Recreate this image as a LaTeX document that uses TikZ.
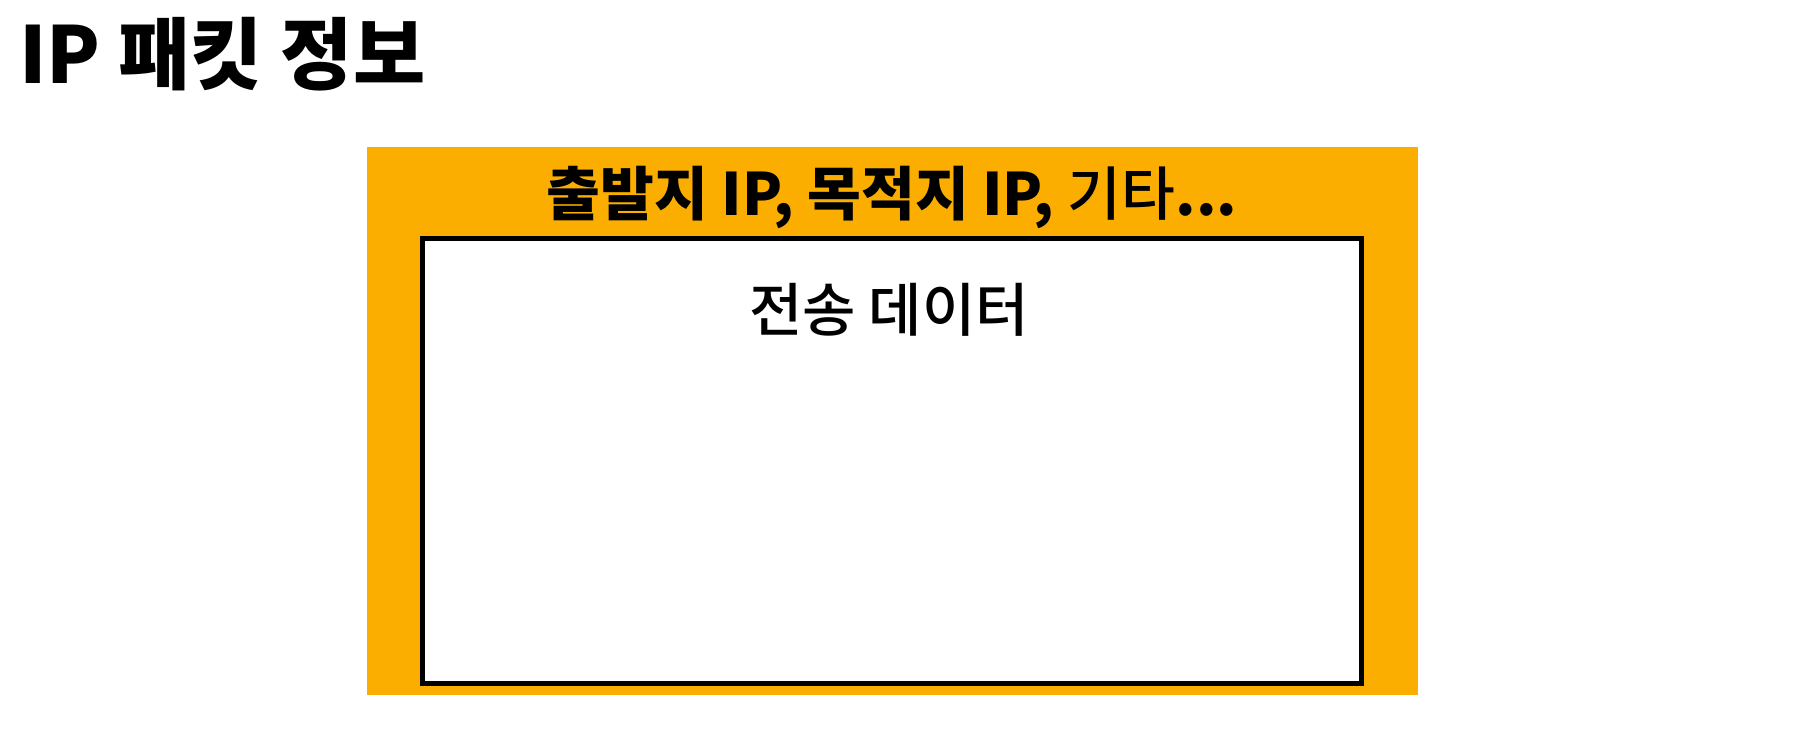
\documentclass[tikz,border=0pt]{standalone}
\usepackage{fontspec}
\newfontfamily\kofont{Noto Sans CJK KR}
\newfontfamily\komedium{Noto Sans CJK KR}[UprightFont=* Medium]
\usetikzlibrary{positioning}
\definecolor{packetorange}{RGB}{252,174,0}
\tikzset{
  box/.style={inner sep=0pt, outer sep=0pt, anchor=north west},
  label/.style={inner sep=0pt, outer sep=0pt, font=\kofont}
}

\begin{document}
\begin{tikzpicture}[x=1pt,y=-1pt]
    \useasboundingbox (0,0) rectangle (1806,752);

    % title
    \node[label, anchor=base west, font=\kofont\bfseries\fontsize{78.5}{94}\selectfont]
        (title) at (19,83) {IP 패킷 정보};

    % packet (orange) and payload (white)
    \node[box, fill=packetorange, minimum width=1051pt, minimum height=548pt]
        (packet) at (367,147) {};
    \node[box, draw=black, line width=5pt, fill=white,
          minimum width=938.5pt, minimum height=444.5pt]
        (payload) at (422.5,238.5) {};

    % header text
    \node[label, anchor=base, font=\kofont\fontsize{58.5}{70}\selectfont]
        (header) at (892,215) {\bfseries 출발지 IP, 목적지 IP, {\komedium\mdseries 기타}...};

    % payload text
    \node[label, anchor=base, font=\komedium\mdseries\fontsize{58}{70}\selectfont]
        (data) at (889,331) {전송 데이터};
\end{tikzpicture}
\end{document}
